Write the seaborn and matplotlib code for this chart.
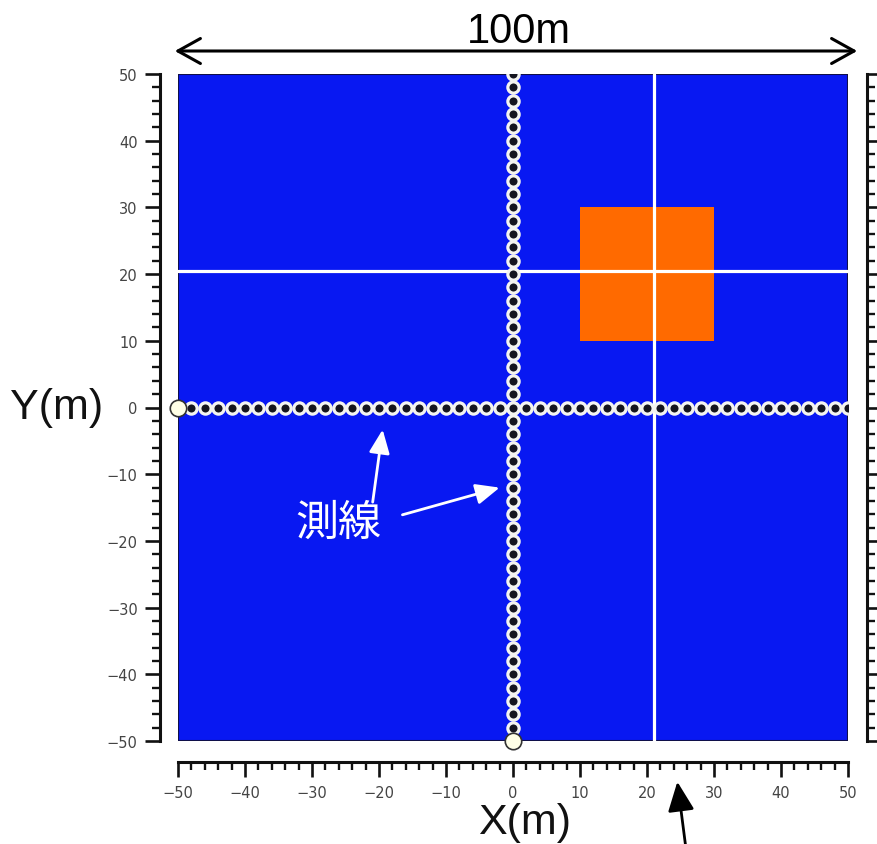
import matplotlib
matplotlib.use("Agg")
import matplotlib.pyplot as plt
import seaborn as sns
import pandas as pd
from matplotlib.patches import Rectangle
from matplotlib.ticker import MultipleLocator

# ---- data ----
receivers = [-50, -48, -46, -44, -42, -40, -38, -36, -34, -32, -30, -28, -26, -24,
             -22, -20, -18, -16, -14, -12, -10, -8, -6, -4, -2, 0, 2, 4, 6, 8, 10,
             12, 14, 16, 18, 20, 22, 24, 26, 28, 30, 32, 34, 36, 38, 40, 42, 44, 46,
             48, 50]
line_ew_y = 0      # east-west survey line at Y = 0
line_ns_x = 0      # north-south survey line at X = 0
start_x = [-50, 0]
start_y = [0, -50]
anomaly_x = [10, 30]
anomaly_y = [10, 30]
section_y = 20.5
section_x = 21
ticks = [-50, -40, -30, -20, -10, 0, 10, 20, 30, 40, 50]
tick_labels = ['\u221250', '\u221240', '\u221230', '\u221220', '\u221210', '0',
               '10', '20', '30', '40', '50']

W, H = 877, 845
sns.set_theme(style="white")
plt.rcParams['font.family'] = ['DejaVu Sans']

fig = plt.figure(figsize=(W / 100, H / 100), dpi=100)
fig.patch.set_facecolor('white')
ax = fig.add_axes([178 / W, 1 - 742 / H, 670 / W, 667 / H])

blue = '#0818F2'
ax.add_patch(Rectangle((-50, -50), 100, 100, facecolor=blue, edgecolor='#10104a',
                       lw=1.5, zorder=0))
ax.add_patch(Rectangle((anomaly_x[0], anomaly_y[0]), anomaly_x[1] - anomaly_x[0],
                       anomaly_y[1] - anomaly_y[0], facecolor='#FF6A00',
                       edgecolor='none', zorder=1))
ax.axhline(section_y, color='white', lw=2.3, zorder=2)
ax.axvline(section_x, color='white', lw=2.3, zorder=2)

df_ew = pd.DataFrame({'x': receivers, 'y': [line_ew_y] * len(receivers)})
df_ns = pd.DataFrame({'x': [line_ns_x] * len(receivers), 'y': receivers})
for d in (df_ew, df_ns):
    sns.scatterplot(data=d, x='x', y='y', ax=ax, s=66, marker='o',
                    color='#15151f', edgecolor='#f4f4f0', linewidth=2.3, zorder=3)
sns.scatterplot(x=start_x, y=start_y, ax=ax, s=140, color='#FFFFE6',
                edgecolor='#333333', linewidth=1.2, zorder=4, clip_on=False)

ax.set_xlim(-50, 50)
ax.set_ylim(-50, 50)
ax.set_xlabel('')
ax.set_ylabel('')
ax.set_xticks(ticks)
ax.set_yticks(ticks)
ax.xaxis.set_minor_locator(MultipleLocator(2))
ax.yaxis.set_minor_locator(MultipleLocator(2))
ax.set_xticklabels(tick_labels, family=['DejaVu Sans Mono'], fontweight='bold')
ax.set_yticklabels(tick_labels, family=['DejaVu Sans Mono'], fontweight='bold')

for side, off in (('left', 13), ('bottom', 15), ('right', 14)):
    ax.spines[side].set_visible(True)
    ax.spines[side].set_position(('outward', off))
    ax.spines[side].set_color('#111111')
    ax.spines[side].set_linewidth(2.2)
ax.spines['top'].set_visible(False)

ax.tick_params(axis='both', which='major', direction='out', length=11, width=1.9,
               color='#111111', labelsize=10.5, labelcolor='#444444')
ax.tick_params(axis='both', which='minor', direction='out', length=6, width=1.7,
               color='#111111')
ax.tick_params(axis='x', which='both', bottom=True, top=False, pad=6)
ax.tick_params(axis='y', which='both', left=True, right=True, labelright=False, pad=5)
ax.grid(False)

def fx(px):
    return px / W

def fy(py):
    return 1 - py / H

# labels
fig.text(fx(57), fy(408), 'Y(m)', fontsize=31, family=['Liberation Sans', 'DejaVu Sans'],
         ha='center', va='center', color='#111111')
fig.text(fx(525), fy(823), 'X(m)', fontsize=31, family=['Liberation Sans', 'DejaVu Sans'],
         ha='center', va='center', color='#111111')
fig.text(fx(519), fy(32), '100m', fontsize=30, family=['Liberation Sans', 'DejaVu Sans'],
         ha='center', va='center', color='#000000')

# 100m arrow
fig.add_artist(matplotlib.patches.FancyArrowPatch(
    (fx(172), fy(52)), (fx(860), fy(52)), transform=fig.transFigure,
    arrowstyle='<->,head_length=0.9,head_width=0.5', mutation_scale=18,
    lw=2.2, color='black'))

# bottom black arrow
fig.add_artist(matplotlib.patches.FancyArrowPatch(
    (fx(686), fy(850)), (fx(677), fy(780)), transform=fig.transFigure,
    arrowstyle='-|>,head_length=1.0,head_width=0.45', mutation_scale=18,
    lw=2.0, color='black'))

# survey line annotation
ax.text(-26.0, -17.3, '測線', fontsize=31, color='white',
        family=['Noto Sans CJK JP', 'DejaVu Sans'], ha='center', va='center', zorder=5)
ax.annotate('', xy=(-19.4, -2.9), xytext=(-21.0, -14.6),
            arrowprops=dict(arrowstyle='-|>,head_length=0.8,head_width=0.35',
                            color='white', lw=2, mutation_scale=18), zorder=5)
ax.annotate('', xy=(-1.6, -11.9), xytext=(-16.9, -16.2),
            arrowprops=dict(arrowstyle='-|>,head_length=0.8,head_width=0.35',
                            color='white', lw=2, mutation_scale=18), zorder=5)

fig.savefig('out.png', dpi=100, facecolor='white')
